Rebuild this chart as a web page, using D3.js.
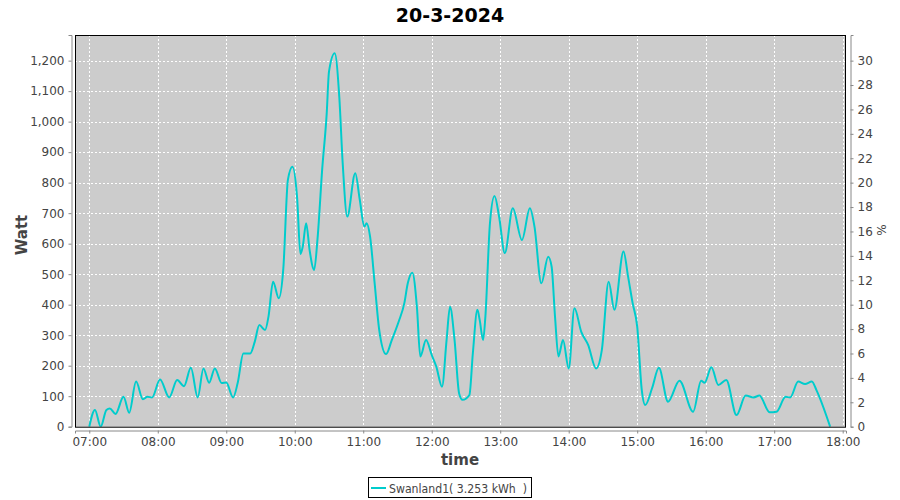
<!DOCTYPE html>
<html><head><meta charset="utf-8">
<script src="https://cdn.jsdelivr.net/npm/d3@7"></script>
<style>body{margin:0;background:#fff}svg{display:block}text{font-family:"DejaVu Sans",sans-serif}</style>
</head><body>
<svg id="c" width="900" height="500"></svg>
<script>
const title = "20-3-2024";
const seriesName = "Swanland1( 3.253 kWh  )";
const times = ["07:00","07:05","07:10","07:15","07:18","07:23","07:30","07:35","07:41","07:47","07:51","07:55",
"08:02","08:10","08:17","08:23","08:29","08:35","08:40","08:45","08:50","08:56",
"09:00","09:06","09:10","09:15","09:21","09:25","09:29","09:34","09:37","09:41","09:46","09:50","09:54","09:58",
"10:02","10:05","10:07","10:10","10:13","10:17","10:20","10:24","10:28","10:30","10:35","10:39","10:42","10:46","10:53","10:57",
"11:01","11:03","11:06","11:10","11:14","11:20","11:25","11:31","11:36","11:39","11:43","11:47","11:50","11:55",
"12:00","12:04","12:09","12:13","12:16","12:20","12:24","12:27","12:33","12:36","12:40","12:42","12:45","12:47","12:51","12:55","12:59",
"13:04","13:11","13:19","13:26","13:30","13:36","13:42","13:45","13:48","13:51","13:55",
"14:00","14:05","14:11","14:17","14:24","14:29","14:35","14:40","14:48","14:52","14:56",
"15:00","15:04","15:07","15:13","15:19","15:27","15:37","15:49","15:56","15:59",
"16:05","16:11","16:18","16:27","16:35","16:42","16:47","16:56",
"17:02","17:10","17:14","17:21","17:27","17:33","17:37","17:49"];
const watts = [0,55,0,55,60,42,98,46,148,90,98,96,
155,96,153,133,193,96,191,144,191,143,
145,96,143,240,240,279,333,317,361,475,421,519,809,852,
754,566,590,667,579,514,618,842,1027,1164,1224,1082,864,689,831,743,
656,667,623,470,317,238,284,344,405,470,505,393,230,284,
235,197,131,284,393,284,109,88,104,240,383,350,284,361,667,756,689,
569,716,612,716,656,470,557,525,361,230,284,
191,388,311,268,191,251,475,383,574,492,405,
328,120,71,126,193,82,151,49,151,144,
195,137,153,38,102,96,102,47,
49,98,96,148,140,148,120,0];
const hourTicks = ["07:00","08:00","09:00","10:00","11:00","12:00","13:00","14:00","15:00","16:00","17:00","18:00"];
const wattTicks = [0,100,200,300,400,500,600,700,800,900,1000,1100,1200];
const pctTicks = [0,2,4,6,8,10,12,14,16,18,20,22,24,26,28,30];

const parse = d3.timeParse("%H:%M");
const data = times.map((t,i)=>({t:parse(t), v:watts[i]}));
const svg = d3.select("#c");
const L=75, R=846, T=35, B=426.7;
const x = d3.scaleTime().domain([parse("06:47").getTime()+30000, parse("18:03").getTime()-6000].map(d=>new Date(d))).range([L,R]);
const y = d3.scaleLinear().domain([0,1284]).range([B,T]);
const yp = d3.scaleLinear().domain([0,32.1]).range([B,T]);

svg.append("text").attr("x",450).attr("y",22).attr("text-anchor","middle")
  .style("font-size","19px").style("font-weight","bold").attr("fill","#000").text(title);

svg.append("rect").attr("x",L).attr("y",T).attr("width",R-L).attr("height",B-T).attr("fill","#cccccc");
const g = svg.append("g");
g.selectAll(".gy").data(wattTicks.slice(1)).join("line")
  .attr("x1",L).attr("x2",R).attr("y1",d=>Math.round(y(d))+0.5).attr("y2",d=>Math.round(y(d))+0.5)
  .attr("stroke","#fff").attr("stroke-dasharray","2,2");
g.selectAll(".gx").data(hourTicks.map(parse)).join("line")
  .attr("x1",d=>Math.round(x(d))+0.5).attr("x2",d=>Math.round(x(d))+0.5).attr("y1",T).attr("y2",B)
  .attr("stroke","#fff").attr("stroke-dasharray","2,2");

svg.append("clipPath").attr("id","cp").append("rect").attr("x",L).attr("y",T).attr("width",R-L).attr("height",B-T);
svg.append("path").datum(data).attr("clip-path","url(#cp)")
  .attr("d",d3.line().x(d=>x(d.t)).y(d=>y(d.v)).curve(d3.curveMonotoneX))
  .attr("fill","none").attr("stroke","#00cccc").attr("stroke-width",2);

svg.append("rect").attr("x",L+0.5).attr("y",T+0.5).attr("width",R-L-1).attr("height",B-T).attr("fill","none").attr("stroke","#000").attr("stroke-width",1);

const axCol="#888", txtCol="#444";
function styleAxis(sel){
  sel.select(".domain").attr("stroke",axCol);
  sel.selectAll(".tick line").attr("stroke",axCol);
  sel.selectAll(".tick text").attr("fill",txtCol).style("font-size","12px").style("font-family","'DejaVu Sans',sans-serif");
}
const ax = svg.append("g").attr("transform","translate(0,430.5)")
  .call(d3.axisBottom(x).tickValues(hourTicks.map(parse)).tickFormat(d3.timeFormat("%H:%M")).tickSizeOuter(0).tickSize(3).tickPadding(4));
styleAxis(ax);
const ayl = svg.append("g").attr("transform","translate(71.5,0)")
  .call(d3.axisLeft(y).tickValues(wattTicks).tickFormat(d3.format(",")).tickSizeOuter(0).tickSize(3).tickPadding(4));
styleAxis(ayl);
const ayr = svg.append("g").attr("transform","translate(850.5,0)")
  .call(d3.axisRight(yp).tickValues(pctTicks).tickFormat(d3.format("d")).tickSizeOuter(0).tickSize(3).tickPadding(4));
styleAxis(ayr);

svg.append("text").attr("transform","translate(27,235) rotate(-90)").attr("text-anchor","middle")
  .style("font-size","15px").style("font-weight","bold").attr("fill",txtCol).text("Watt");
svg.append("text").attr("transform","translate(886,230) rotate(-90)").attr("text-anchor","middle")
  .style("font-size","12px").attr("fill",txtCol).text("%");
svg.append("text").attr("x",460).attr("y",465).attr("text-anchor","middle")
  .style("font-size","15px").style("font-weight","bold").attr("fill",txtCol).text("time");

const lg = svg.append("g");
lg.append("rect").attr("x",368.5).attr("y",477.5).attr("width",163).attr("height",20).attr("fill","#fff").attr("stroke","#000");
lg.append("line").attr("x1",371).attr("x2",386).attr("y1",488).attr("y2",488).attr("stroke","#00cccc").attr("stroke-width",2);
lg.append("text").attr("x",389).attr("y",492.5).style("font-size","12px").attr("fill",txtCol)
  .style("white-space","pre").attr("textLength",138).attr("lengthAdjust","spacingAndGlyphs").text(seriesName);
</script>
</body></html>
